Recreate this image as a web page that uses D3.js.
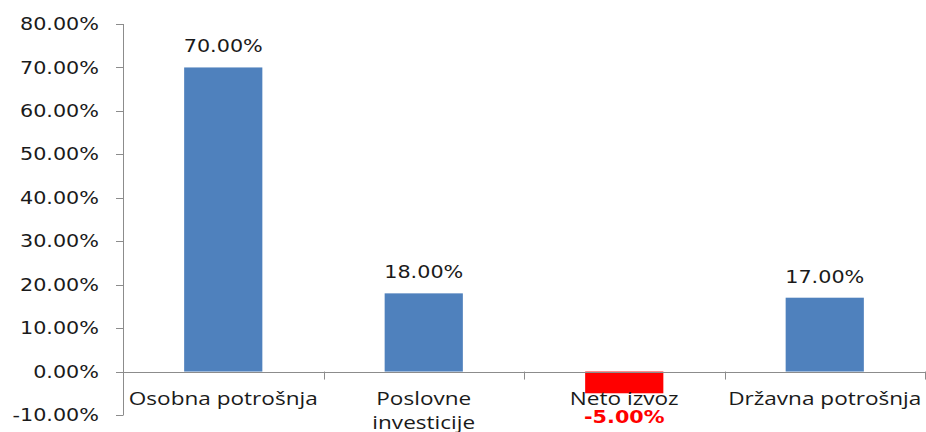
<!DOCTYPE html>
<meta charset="utf-8">
<style>
  body { margin: 0; background: #fff; }
  svg { display: block; }
</style>
<body>
<svg id="chart" width="926" height="432"></svg>
<script src="https://d3js.org/d3.v7.min.js"></script>
<script>
// data
var categories = ["Osobna potrošnja", "Poslovne\ninvesticije", "Neto izvoz", "Državna potrošnja"];
var values = [70, 18, -5, 17];
var yTicks = [-10, 0, 10, 20, 30, 40, 50, 60, 70, 80];

var width = 926, height = 432;
var stretch = 1.22; // the source picture is squeezed wider than tall

var svg = d3.select("#chart");

var y = d3.scaleLinear().domain([-10, 80]).range([415, 24]);
var x = d3.scaleBand().domain(categories).range([123, 925])
  .paddingInner(0.61).paddingOuter(0.305);

// plain hyphen for negatives, like the original
var fmt = function(v) { return d3.format(".2f")(v).replace("\u2212", "-") + "%"; };
var grey = "#8c8c8c";

// bars
svg.selectAll(".bar")
  .data(values)
  .enter()
  .append("rect")
  .attr("class", "bar")
  .attr("x", (d, i) => x(categories[i]))
  .attr("width", x.bandwidth())
  .attr("y", d => y(Math.max(0, d)))
  .attr("height", d => Math.abs(y(d) - y(0)))
  .attr("fill", d => d < 0 ? "#ff0000" : "#4f81bd");

// y axis
var yAxis = svg.append("g");
yAxis.append("line")
  .attr("x1", 123.5).attr("x2", 123.5)
  .attr("y1", y(80)).attr("y2", y(-10))
  .attr("stroke", grey);

yAxis.selectAll(".tick")
  .data(yTicks)
  .enter()
  .append("line")
  .attr("x1", 116).attr("x2", 123.5)
  .attr("y1", d => Math.round(y(d)) + 0.5)
  .attr("y2", d => Math.round(y(d)) + 0.5)
  .attr("stroke", grey);

yAxis.selectAll(".lab")
  .data(yTicks)
  .enter()
  .append("text")
  .attr("transform", d => "translate(99," + y(d) + ") scale(" + stretch + ",1)")
  .attr("dy", "0.36em")
  .attr("text-anchor", "end")
  .style("font-family", "DejaVu Sans, Verdana, sans-serif")
  .style("font-size", "17px")
  .attr("fill", "#1a1a1a")
  .text(fmt);

// x axis along zero
var step = x.step();
var bounds = d3.range(categories.length + 1).map(i => 123 + i * step);

svg.append("line")
  .attr("x1", 123).attr("x2", 925)
  .attr("y1", Math.round(y(0)) + 0.5).attr("y2", Math.round(y(0)) + 0.5)
  .attr("stroke", grey);

svg.selectAll(".xtick")
  .data(bounds.slice(1))
  .enter()
  .append("line")
  .attr("x1", d => Math.round(d) + 0.5).attr("x2", d => Math.round(d) + 0.5)
  .attr("y1", y(0)).attr("y2", y(0) + 8)
  .attr("stroke", grey);

// category labels
svg.selectAll(".cat")
  .data(categories)
  .enter()
  .append("text")
  .attr("class", "cat")
  .attr("transform", d => "translate(" + (x(d) + x.bandwidth() / 2) + ",405) scale(" + stretch + ",1)")
  .attr("text-anchor", "middle")
  .style("font-family", "Open Sans, sans-serif")
  .style("font-size", "18.5px")
  .attr("fill", "#1a1a1a")
  .each(function(d) {
    var t = d3.select(this);
    d.split("\n").forEach((line, j) => {
      t.append("tspan").attr("x", 0).attr("dy", j ? 24 : 0).text(line);
    });
  });

// value labels
svg.selectAll(".val")
  .data(values)
  .enter()
  .append("text")
  .attr("transform", (d, i) => {
    var cx = x(categories[i]) + x.bandwidth() / 2;
    var ty = d < 0 ? 423 : y(d) - 15;
    return "translate(" + cx + "," + ty + ") scale(" + stretch + ",1)";
  })
  .attr("text-anchor", "middle")
  .style("font-family", "DejaVu Sans, Verdana, sans-serif")
  .style("font-size", "17px")
  .style("font-weight", d => d < 0 ? "bold" : "normal")
  .attr("fill", d => d < 0 ? "#ff0000" : "#1a1a1a")
  .text(fmt);
</script>
</body>
